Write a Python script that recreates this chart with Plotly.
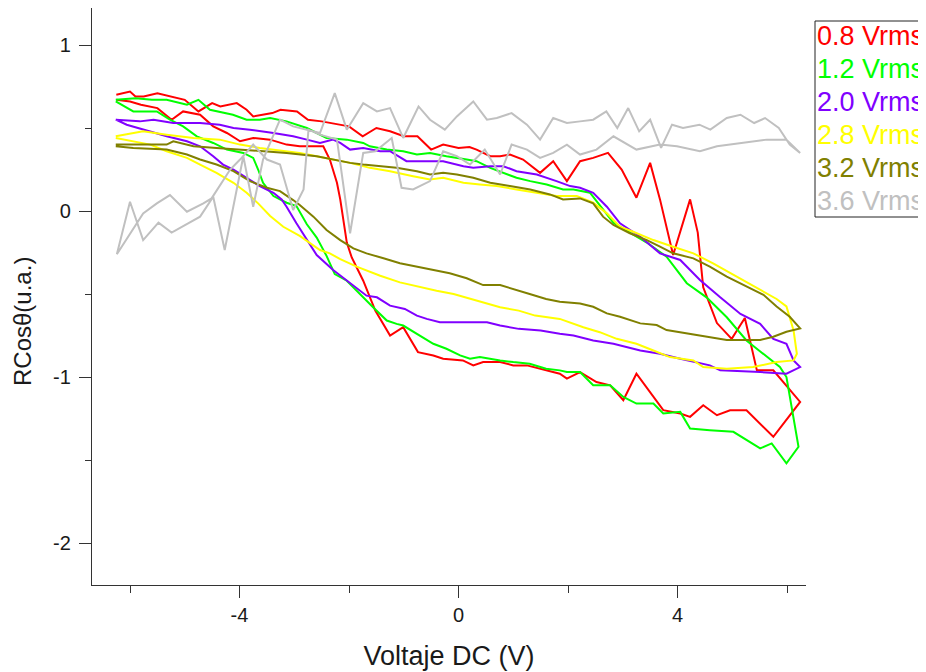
import plotly.graph_objects as go

# ---------------- data ----------------
labels = ["0.8 Vrms", "1.2 Vrms", "2.0 Vrms", "2.8 Vrms", "3.2 Vrms", "3.6 Vrms"]
colors = ["#ff0000", "#00ff00", "#8000ff", "#ffff00", "#808000", "#c0c0c0"]

x_ticks = [-4, 0, 4]
x_minor = [-6, -2, 2, 6]
y_ticks = [1, 0, -1, -2]
y_minor = [0.5, -0.5, -1.5]

# 0.8 Vrms
v_08 = [-6.25, -6.0, -5.9, -5.75, -5.5, -5.25, -5.0, -4.75, -4.5, -4.35,
        -4.05, -3.87, -3.75, -3.4, -3.25, -2.95, -2.75, -2.5, -2.2, -2.0,
        -1.75, -1.5, -1.25, -1.0, -0.75, -0.5, -0.28, 0.0, 0.2, 0.33,
        0.58, 0.76, 0.94, 1.18, 1.49, 1.73, 1.98, 2.22, 2.46, 2.73,
        2.98, 3.25, 3.5, 3.68, 3.92, 4.23, 4.37, 4.47, 4.72, 4.99,
        5.23, 5.45, 5.75, 6.24,
        5.75, 5.26, 4.96, 4.72, 4.47, 4.23, 4.05, 3.74, 3.25, 3.01,
        2.77, 2.52, 2.22, 1.98, 1.85, 1.5, 1.25, 1.0, 0.76, 0.45,
        0.27, 0.08, -0.28, -0.46, -0.74, -1.01, -1.25, -1.52, -1.74, -1.95,
        -2.04, -2.16, -2.22, -2.35, -2.47, -2.9, -3.14, -3.44, -3.75, -3.99,
        -4.23, -4.48, -4.72, -5.03, -5.24, -5.5, -5.8, -6.0, -6.25]
r_08 = [0.70, 0.72, 0.69, 0.69, 0.71, 0.69, 0.67, 0.60, 0.65, 0.63,
        0.65, 0.61, 0.57, 0.59, 0.61, 0.60, 0.55, 0.54, 0.52, 0.51,
        0.45, 0.50, 0.48, 0.45, 0.45, 0.37, 0.40, 0.38, 0.385, 0.37,
        0.33, 0.33, 0.34, 0.31, 0.23, 0.30, 0.18, 0.30, 0.32, 0.35,
        0.25, 0.08, 0.29, 0.07, -0.265, 0.07, -0.13, -0.46, -0.675, -0.77,
        -0.645, -0.96, -0.96, -1.15,
        -1.36, -1.20, -1.20, -1.23, -1.17, -1.24, -1.22, -1.20, -0.98, -1.14,
        -1.05, -1.03, -0.97, -1.01, -0.98, -0.95, -0.93, -0.93, -0.91, -0.91,
        -0.93, -0.90, -0.89, -0.87, -0.85, -0.70, -0.75, -0.60, -0.42, -0.28,
        -0.19, 0.07, 0.17, 0.31, 0.39, 0.39, 0.40, 0.43, 0.44, 0.42,
        0.47, 0.51, 0.58, 0.60, 0.55, 0.62, 0.64, 0.66, 0.67]

# 1.2 Vrms
v_12 = [-6.26, -5.9, -5.6, -5.33, -4.96, -4.75, -4.54, -4.12, -3.87, -3.63,
        -3.44, -3.14, -2.77, -2.41, -2.04, -1.74, -1.62, -1.31, -1.01, -0.76,
        -0.52, -0.22, 0.15, 0.33, 0.58, 0.82, 1.06, 1.31, 1.61, 1.91,
        2.10, 2.40, 2.64, 2.83, 3.13, 3.44, 3.80, 4.17, 4.53, 4.90,
        5.26, 5.63, 5.87, 5.99, 6.12, 6.21,
        5.99, 5.72, 5.51, 5.26, 5.02, 4.59, 4.23, 4.05, 3.74, 3.56,
        3.25, 3.01, 2.77, 2.46, 2.22, 1.98, 1.85, 1.6, 1.3, 1.0,
        0.76, 0.39, 0.21, 0.03, -0.22, -0.46, -0.76, -1.01, -1.13, -1.31,
        -1.56, -1.74, -2.04, -2.26, -2.41, -2.59, -2.77, -2.96, -3.14, -3.38,
        -3.57, -3.66, -3.75, -3.93, -4.23, -4.48, -4.78, -5.03, -5.27, -5.51,
        -5.94, -6.26]
r_12 = [0.67, 0.68, 0.67, 0.67, 0.64, 0.67, 0.61, 0.58, 0.55, 0.55,
        0.56, 0.54, 0.50, 0.44, 0.43, 0.41, 0.39, 0.37, 0.36, 0.34,
        0.35, 0.33, 0.31, 0.30, 0.26, 0.23, 0.20, 0.18, 0.16, 0.13,
        0.13, 0.11, 0.006, -0.07, -0.13, -0.19, -0.275, -0.435, -0.52, -0.64,
        -0.78, -0.88, -0.94, -1.0, -1.24, -1.42,
        -1.52, -1.40, -1.43, -1.38, -1.33, -1.32, -1.31, -1.21, -1.22, -1.16,
        -1.16, -1.12, -1.05, -1.05, -0.97, -0.97, -0.96, -0.95, -0.92, -0.91,
        -0.90, -0.88, -0.89, -0.87, -0.83, -0.80, -0.74, -0.69, -0.68, -0.66,
        -0.58, -0.52, -0.42, -0.38, -0.27, -0.16, -0.08, 0.03, 0.05, 0.09,
        0.17, 0.25, 0.32, 0.35, 0.37, 0.41, 0.45, 0.51, 0.55, 0.60,
        0.60, 0.66]

# 2.0 Vrms
v_20 = [-6.26, -5.82, -5.57, -5.21, -4.72, -4.36, -4.11, -3.81, -3.38, -3.02,
        -2.77, -2.53, -2.29, -2.16, -1.98, -1.74, -1.43, -1.25, -0.95, -0.64,
        -0.28, 0.09, 0.27, 0.58, 0.82, 1.06, 1.43, 1.79, 2.04, 2.22,
        2.46, 2.71, 2.95, 3.32, 3.68, 4.05, 4.41, 4.78, 5.15, 5.51,
        5.75, 5.99, 6.12, 6.24,
        5.99, 5.51, 4.78, 4.59, 4.29, 4.05, 3.68, 3.32, 2.83, 2.46,
        2.10, 1.85, 1.5, 1.1, 0.76, 0.52, -0.34, -0.58, -0.76, -0.98,
        -1.25, -1.49, -1.68, -1.92, -2.29, -2.59, -2.77, -2.96, -3.14, -3.23,
        -3.38, -3.63, -3.87, -4.11, -4.30, -4.48, -4.72, -4.96, -5.33, -5.76,
        -6.06, -6.26]
r_20 = [0.55, 0.54, 0.55, 0.53, 0.53, 0.52, 0.50, 0.49, 0.47, 0.45,
        0.43, 0.41, 0.43, 0.41, 0.37, 0.38, 0.36, 0.36, 0.30, 0.30,
        0.30, 0.27, 0.26, 0.27, 0.27, 0.24, 0.22, 0.18, 0.15, 0.14,
        0.11, 0.026, -0.074, -0.155, -0.255, -0.295, -0.415, -0.52, -0.62, -0.68,
        -0.77, -0.80, -0.90, -0.94,
        -0.98, -0.97, -0.96, -0.93, -0.91, -0.89, -0.86, -0.84, -0.80, -0.78,
        -0.75, -0.74, -0.72, -0.71, -0.69, -0.67, -0.67, -0.65, -0.63, -0.59,
        -0.57, -0.52, -0.51, -0.45, -0.355, -0.265, -0.175, -0.074, 0.026, 0.07,
        0.11, 0.15, 0.20, 0.25, 0.28, 0.33, 0.39, 0.42, 0.45, 0.49,
        0.52, 0.55]

# 2.8 Vrms
v_28 = [-6.26, -5.94, -5.76, -5.33, -4.84, -4.36, -3.99, -3.63, -3.14, -2.90,
        -2.59, -1.98, -1.62, -1.25, -0.83, -0.52, -0.28, 0.09, 0.39, 0.70,
        1.06, 1.43, 1.79, 2.16, 2.46, 2.71, 2.95, 3.19, 3.56, 3.92,
        4.29, 4.65, 5.08, 5.51, 5.81, 5.99, 6.12, 6.18,
        6.12, 5.81, 5.38, 4.90, 4.47, 4.29, 3.86, 3.56, 3.25, 2.89,
        2.58, 2.28, 1.85, 1.4, 1.1, 0.76, 0.45, 0.21, -0.09, -0.40,
        -0.83, -1.07, -1.43, -1.86, -2.16, -2.35, -2.53, -2.77, -2.90, -3.20,
        -3.44, -3.66, -3.87, -4.11, -4.42, -4.72, -4.96, -5.33, -5.63, -6.26]
r_28 = [0.45, 0.47, 0.48, 0.46, 0.44, 0.43, 0.40, 0.38, 0.36, 0.35,
        0.33, 0.29, 0.26, 0.24, 0.21, 0.19, 0.20, 0.17, 0.16, 0.15,
        0.13, 0.11, 0.09, 0.09, 0.05, -0.014, -0.095, -0.125, -0.175, -0.215,
        -0.255, -0.315, -0.395, -0.475, -0.53, -0.575, -0.72, -0.86,
        -0.90, -0.91, -0.94, -0.95, -0.94, -0.90, -0.88, -0.84, -0.80, -0.77,
        -0.73, -0.70, -0.65, -0.63, -0.60, -0.58, -0.55, -0.53, -0.50, -0.48,
        -0.45, -0.43, -0.39, -0.335, -0.29, -0.255, -0.235, -0.18, -0.15, -0.095,
        -0.03, 0.046, 0.11, 0.17, 0.23, 0.28, 0.32, 0.36, 0.40, 0.44]

# 3.2 Vrms
v_32 = [-6.26, -5.94, -5.33, -5.21, -4.84, -4.42, -3.93, -3.50, -3.14, -2.59,
        -1.98, -1.74, -1.43, -1.13, -0.76, -0.52, -0.28, -0.03, 0.27, 0.58,
        0.94, 1.31, 1.67, 1.91, 2.22, 2.46, 2.64, 2.83, 3.13, 3.44,
        3.68, 3.92, 4.29, 4.59, 4.90, 5.26, 5.57, 5.81, 6.05, 6.24,
        5.99, 5.75, 5.51, 4.90, 4.53, 4.17, 3.80, 3.62, 3.32, 2.95,
        2.71, 2.46, 2.22, 1.85, 1.6, 1.3, 1.0, 0.76, 0.45, 0.15,
        -0.16, -0.46, -0.76, -1.07, -1.37, -1.68, -1.92, -2.16, -2.41, -2.65,
        -2.90, -3.02, -3.26, -3.50, -3.81, -4.11, -4.42, -4.72, -4.96, -5.33,
        -5.94, -6.26]
r_32 = [0.40, 0.40, 0.40, 0.42, 0.39, 0.38, 0.37, 0.36, 0.35, 0.33,
        0.29, 0.28, 0.27, 0.26, 0.24, 0.22, 0.23, 0.22, 0.20, 0.17,
        0.15, 0.13, 0.10, 0.07, 0.076, 0.046, -0.034, -0.084, -0.134, -0.175,
        -0.215, -0.255, -0.285, -0.335, -0.395, -0.455, -0.505, -0.575, -0.637, -0.707,
        -0.727, -0.757, -0.777, -0.777, -0.757, -0.737, -0.717, -0.687, -0.677, -0.637,
        -0.617, -0.577, -0.557, -0.547, -0.53, -0.50, -0.47, -0.446, -0.446, -0.405,
        -0.375, -0.355, -0.335, -0.315, -0.285, -0.255, -0.225, -0.175, -0.114, -0.034,
        0.036, 0.066, 0.12, 0.14, 0.18, 0.24, 0.28, 0.31, 0.34, 0.37,
        0.38, 0.39]

# 3.6 Vrms
v_36 = [-6.24, -6.0, -5.76, -5.48, -5.24, -4.96, -4.72, -4.48, -4.27, -3.93,
        -3.75, -3.57, -3.26, -3.02, -2.77, -2.53, -2.26, -2.04, -1.74, -1.49,
        -1.25, -1.01, -0.73, -0.52, -0.25, -0.03, 0.27, 0.52, 0.70, 0.97,
        1.25, 1.49, 1.73, 1.98, 2.22, 2.46, 2.7, 2.9, 3.1, 3.3,
        3.5, 3.7, 3.9, 4.1, 4.4, 4.6, 4.9, 5.15, 5.4, 5.6,
        5.85, 6.05, 6.24,
        5.99, 5.63, 5.14, 4.72, 4.41, 3.99, 3.68, 3.25, 2.83, 2.52,
        2.22, 1.98, 1.73, 1.49, 1.25, 0.97, 0.76, 0.48, 0.21, -0.03,
        -0.28, -0.52, -0.83, -1.04, -1.22, -1.52, -1.74, -1.98, -2.22, -2.53,
        -2.74, -2.83, -3.02, -3.26, -3.50, -3.75, -3.99, -4.17, -4.51, -4.66,
        -4.96, -5.27, -5.51, -5.76, -6.24]
r_36 = [-0.26, 0.056, -0.175, -0.07, -0.13, -0.08, -0.034, 0.086, -0.235, 0.33,
        0.026, 0.31, 0.55, 0.51, 0.49, 0.47, 0.71, 0.49, 0.65, 0.60,
        0.62, 0.44, 0.63, 0.55, 0.49, 0.57, 0.66, 0.55, 0.56, 0.59,
        0.52, 0.43, 0.56, 0.53, 0.54, 0.55, 0.60, 0.50, 0.62, 0.48,
        0.55, 0.38, 0.52, 0.50, 0.52, 0.49, 0.56, 0.58, 0.53, 0.56,
        0.50, 0.40, 0.35,
        0.43, 0.43, 0.41, 0.39, 0.36, 0.39, 0.40, 0.37, 0.45, 0.37,
        0.34, 0.40, 0.35, 0.32, 0.37, 0.40, 0.22, 0.37, 0.28, 0.33,
        0.36, 0.18, 0.13, 0.14, 0.44, 0.36, 0.35, -0.134, 0.43, 0.46,
        0.49, 0.13, 0.006, 0.28, 0.31, 0.40, 0.31, 0.25, 0.076, 0.046,
        -0.004, 0.096, 0.046, -0.014, -0.26]

series_v = [v_08, v_12, v_20, v_28, v_32, v_36]
series_r = [r_08, r_12, r_20, r_28, r_32, r_36]

# ---------------- figure ----------------
FONT = "Arial, 'Liberation Sans', sans-serif"
AX = "#333333"
TXT = "#1a1a1a"

fig = go.Figure()
for name, col, xs, ys in zip(labels, colors, series_v, series_r):
    fig.add_trace(go.Scatter(x=xs, y=ys, mode="lines", name=name,
                             line=dict(color=col, width=2),
                             showlegend=False, hoverinfo="skip"))

W, H = 926, 672
# the page places the figure 8 px in from the top-left corner
L, R, T, B = 84, 128, 0, 95
PL, PR, PT, PB = 92, 806, 8, 585   # plot area in page pixels


def px(xp):
    return (xp - PL) / (PR - PL)


def py(yp):
    return (PB - yp) / (PB - PT)


# Origin-style text legend in a box
fig.add_shape(type="rect", xref="paper", yref="paper",
              x0=px(815), x1=px(945), y0=py(217), y1=py(21),
              line=dict(color="#222222", width=1), fillcolor="white", layer="above")
for i, (name, col) in enumerate(zip(labels, colors)):
    fig.add_annotation(xref="paper", yref="paper", x=px(815), y=py(36 + 33 * i),
                       xanchor="left", yanchor="middle", text=name, showarrow=False,
                       font=dict(family=FONT, size=27, color=col))

# y-axis title (placed lower than the plot-area centre, as in the reference)
fig.add_annotation(xref="paper", yref="paper", x=px(22), y=py(322),
                   xanchor="center", yanchor="middle", textangle=-90,
                   text="RCosθ(u.a.)", showarrow=False,
                   font=dict(family=FONT, size=24, color=TXT))

fig.update_layout(
    width=W, height=H,
    margin=dict(l=L, r=R, t=T, b=B, autoexpand=False),
    paper_bgcolor="white", plot_bgcolor="white",
    font=dict(family=FONT, color=TXT),
    xaxis=dict(range=[-6.694, 6.347], showgrid=False, zeroline=False,
               showline=True, linecolor=AX, linewidth=1.3,
               ticks="outside", ticklen=12, tickwidth=1.3, tickcolor=AX,
               tickmode="array", tickvals=x_ticks, ticktext=[str(t) for t in x_ticks],
               minor=dict(tickmode="array", tickvals=x_minor, ticks="outside",
                          ticklen=7, tickwidth=1.3, tickcolor=AX, showgrid=False),
               tickfont=dict(size=20, family=FONT, color=TXT),
               ticklabelstandoff=0,
               title=dict(text="Voltaje DC (V)", font=dict(size=27, family=FONT, color=TXT),
                          standoff=20)),
    yaxis=dict(range=[-2.253, 1.223], showgrid=False, zeroline=False,
               showline=True, linecolor=AX, linewidth=1.3,
               ticks="outside", ticklen=12, tickwidth=1.3, tickcolor=AX,
               tickmode="array", tickvals=y_ticks, ticktext=[str(t) for t in y_ticks],
               minor=dict(tickmode="array", tickvals=y_minor, ticks="outside",
                          ticklen=6, tickwidth=1.3, tickcolor=AX, showgrid=False),
               tickfont=dict(size=20, family=FONT, color=TXT),
               ticklabelstandoff=4),
)

fig.write_html("out.html")
